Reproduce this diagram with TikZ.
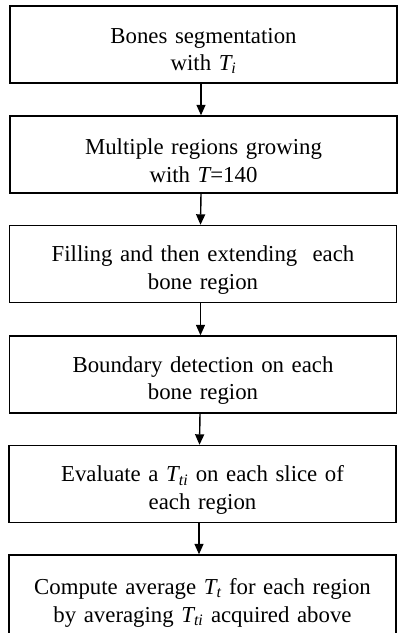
\documentclass[tikz,border=0pt]{standalone}
\usepackage{fontspec}
\setmainfont{Liberation Serif}
\usetikzlibrary{arrows.meta}
\newcommand{\Tv}[1]{{\itshape T}\textsubscript{\itshape #1}}
\begin{document}
\begin{tikzpicture}[x=1pt,y=-1pt,
  stepbox/.style={draw=black, line width=1.4pt, minimum width=387pt, minimum height=77pt,
    text width=385pt, align=center, inner sep=0pt,
    font=\fontsize{22.8}{27.5}\selectfont,
    execute at begin node={\rule{0pt}{28pt}}},
  flow/.style={line width=1.4pt, -{Triangle[width=9pt,length=10.5pt]}}]
\useasboundingbox (0,0) rectangle (399,633);
\clip (0,0) rectangle (399,633);
\node[stepbox] (b1) at (203.5,44.5) {Bones segmentation\\with \Tv{i}};
\node[stepbox] (b2) at (203.5,154.5) {Multiple regions growing\\with {\itshape T}=140};
\node[stepbox] (b3) at (203,264) {Filling and then extending\ \ each\\bone region};
\node[stepbox] (b4) at (203,374.5) {Boundary detection on each\\bone region};
\node[stepbox] (b5) at (202.5,484) {Evaluate a \Tv{ti} on each slice of\\each region};
\node[stepbox, minimum height=84pt] (b6) at (202.5,597) {Compute average \Tv{t} for each region\\by averaging \Tv{ti} acquired above};
\draw[flow] ([xshift=-2.5pt]b1.south) -- ([xshift=-2.5pt]b2.north);
\draw[flow] ([xshift=-2.5pt]b2.south) -- ([xshift=-2.5pt]b3.north);
\draw[flow] ([xshift=-2.5pt]b3.south) -- ([xshift=-2.5pt]b4.north);
\draw[flow] ([xshift=-3pt]b4.south) -- ([xshift=-3pt]b5.north);
\draw[flow] ([xshift=-3.5pt]b5.south) -- ([xshift=-3.5pt]b6.north);
\end{tikzpicture}
\end{document}
